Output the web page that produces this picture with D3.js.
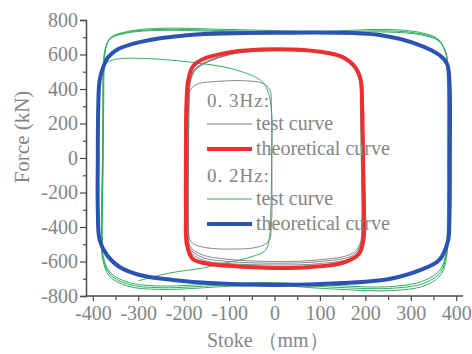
<!DOCTYPE html>
<html>
<head>
<meta charset="utf-8">
<script src="https://cdn.jsdelivr.net/npm/d3@7"></script>
<style>
  body { margin: 0; background: #fff; }
  svg { display: block; }
  text { font-family: "Liberation Serif", "Times New Roman", serif; fill: #858585; }
</style>
</head>
<body>
<svg width="472" height="354"></svg>
<script>
// tick labels
var xTicks = [-400, -300, -200, -100, 0, 100, 200, 300, 400];
var yTicks = [-800, -600, -400, -200, 0, 200, 400, 600, 800];

// 0.3Hz theoretical curve (stoke mm, force kN)
var red03 = [[-195, 0], [-194, 300], [-190, 450], [-180, 530], [-160, 570], [-100, 612], [0, 630], [100, 616], [150, 585], [178, 525], [190, 450], [193, 300], [195, 0], [197, -300], [196, -470], [186, -555], [150, -608], [80, -632], [0, -638], [-100, -625], [-150, -612], [-180, -585], [-193, -500], [-195, -300]];

// 0.3Hz test curves
var gray1 = [[-189, 0], [-188, 300], [-185, 440], [-172, 515], [-100, 598], [0, 622], [100, 610], [150, 582], [175, 530], [187, 450], [189, 300], [191, 0], [192, -400], [188, -500], [170, -555], [100, -590], [0, -600], [-100, -588], [-160, -560], [-185, -515], [-189, -400]];
var gray2 = [[-190, 0], [-189, 300], [-186, 445], [-173, 520], [-100, 602], [0, 625], [100, 612], [150, 585], [176, 535], [188, 455], [190, 300], [192, 0], [193, -400], [189, -505], [172, -565], [100, -600], [0, -610], [-100, -600], [-160, -575], [-186, -525], [-190, -400]];
var gray3 = [[-191, 0], [-190, 300], [-187, 440], [-174, 518], [-100, 600], [0, 624], [100, 614], [150, 588], [177, 538], [189, 460], [191, 300], [193, 0], [194, -400], [190, -512], [174, -575], [100, -612], [0, -620], [-100, -612], [-160, -590], [-187, -535], [-191, -400]];
var grayFirst = [[-190, 0], [-189, 300], [-185, 395], [-170, 428], [-120, 445], [-60, 447], [-25, 432], [-10, 395], [-7, 300], [-6, 0], [-7, -400], [-12, -480], [-35, -515], [-90, -528], [-150, -520], [-180, -495], [-190, -440]];

// 0.2Hz theoretical curve
var blue02 = [[-389, 0], [-388, 300], [-385, 450], [-378, 520], [-366, 585], [-345, 630], [-297, 672], [-187, 713], [0, 726], [231, 713], [319, 655], [363, 597], [380, 545], [385, 450], [386, 0], [385, -360], [382, -480], [363, -591], [319, -652], [253, -701], [150, -725], [0, -736], [-143, -725], [-224, -707], [-297, -678], [-341, -632], [-369, -562], [-385, -475], [-389, -300]];

// 0.2Hz test curves
var green1 = [[-377, 0], [-376, 300], [-375, 520], [-371, 640], [-360, 700], [-320, 735], [-250, 752], [-100, 745], [100, 735], [250, 745], [320, 728], [360, 690], [376, 615], [380, 500], [381, 0], [380, -450], [377, -560], [364, -650], [330, -710], [260, -745], [100, -735], [0, -722], [-100, -726], [-250, -742], [-320, -722], [-360, -668], [-376, -580], [-379, -450]];
var green2 = [[-378, 0], [-377, 300], [-376, 520], [-372, 635], [-361, 695], [-322, 730], [-250, 745], [-100, 738], [100, 728], [250, 737], [322, 720], [361, 683], [377, 610], [381, 500], [382, 0], [381, -450], [378, -565], [366, -660], [333, -722], [262, -755], [100, -745], [0, -730], [-100, -735], [-250, -752], [-322, -732], [-362, -675], [-377, -585], [-380, -450]];
var green3 = [[-379, 0], [-378, 300], [-377, 520], [-373, 630], [-362, 690], [-324, 725], [-250, 740], [-100, 732], [100, 722], [250, 730], [324, 713], [362, 677], [378, 605], [382, 500], [383, 0], [382, -450], [379, -570], [368, -670], [336, -735], [264, -768], [100, -755], [0, -738], [-100, -744], [-250, -762], [-324, -742], [-364, -684], [-378, -590], [-381, -450]];
var greenFirst = [[-300, -712], [-231, -667], [-158, -638], [-99, -603], [-50, -572], [-20, -535], [-11, -460], [-8, -300], [-6, 0], [-6, 250], [-11, 354], [-26, 440], [-84, 510], [-187, 556], [-300, 578], [-350, 572], [-372, 548], [-376, 520]];

var svg = d3.select("svg");
var x = d3.scaleLinear().domain([-415, 415]).range([86, 463]);
var y = d3.scaleLinear().domain([-800, 800]).range([296, 20]);

var loop = d3.line().x(function(d) { return x(d[0]); }).y(function(d) { return y(d[1]); })
  .curve(d3.curveCatmullRomClosed.alpha(0.5));
var open = d3.line().x(function(d) { return x(d[0]); }).y(function(d) { return y(d[1]); })
  .curve(d3.curveCatmullRom.alpha(0.5));

var green = "#33ad62", blue = "#2b53b2", red = "#ec2f2f", gray = "#7a7a7a";

// green test loops, then blue theory on top
[green1, green2, green3].forEach(function(g) {
  svg.append("path").attr("d", loop(g)).attr("fill", "none").attr("stroke", green).attr("stroke-width", 1);
});
svg.append("path").attr("d", open(greenFirst)).attr("fill", "none").attr("stroke", green).attr("stroke-width", 1);
svg.append("path").attr("d", loop(blue02)).attr("fill", "none").attr("stroke", blue).attr("stroke-width", 4);

// gray test loops, then red theory
[gray1, gray2, gray3, grayFirst].forEach(function(g) {
  svg.append("path").attr("d", loop(g)).attr("fill", "none").attr("stroke", gray).attr("stroke-width", 0.9);
});
svg.append("path").attr("d", loop(red03)).attr("fill", "none").attr("stroke", red).attr("stroke-width", 4);

// axes (plain hyphen minus like the original)
var fmt = function(d) { return String(d); };
var xAxis = svg.append("g").attr("transform", "translate(0,296)")
  .call(d3.axisBottom(x).tickValues(xTicks).tickSize(5).tickPadding(4).tickFormat(fmt));
var xMinor = svg.append("g").attr("transform", "translate(0,296)")
  .call(d3.axisBottom(x).tickValues(d3.range(-350, 400, 100)).tickSize(4).tickFormat(""));
var yAxis = svg.append("g").attr("transform", "translate(86,0)")
  .call(d3.axisLeft(y).tickValues(yTicks).tickSize(6).tickPadding(2).tickFormat(fmt));
var yMinor = svg.append("g").attr("transform", "translate(86,0)")
  .call(d3.axisLeft(y).tickValues(d3.range(-700, 800, 200)).tickSize(3).tickFormat(""));

[xAxis, xMinor, yAxis, yMinor].forEach(function(a) {
  a.select(".domain").attr("stroke", "#4a4a4a").attr("stroke-width", 1.5);
  a.selectAll(".tick line").attr("stroke", "#4a4a4a").attr("stroke-width", 1.2);
  a.selectAll("text").attr("font-family", "Liberation Serif, serif").attr("font-size", 20).attr("fill", "#858585");
});
xAxis.select(".domain").attr("d", "M86,0H463");
xMinor.select(".domain").remove();
yMinor.select(".domain").remove();
xAxis.selectAll("text").attr("dy", "0.75em");

// axis titles
svg.append("text").attr("x", 207).attr("y", 347).attr("font-size", 20).text("Stoke （mm）");
svg.append("text").attr("transform", "translate(29,137) rotate(-90)").attr("text-anchor", "middle")
  .attr("font-size", 21).text("Force (kN)");

// legend
var legend = [
  { label: "0. 3Hz:", y: 101 },
  { label: "test curve", y: 124, color: gray, w: 1 },
  { label: "theoretical curve", y: 149, color: red, w: 4 },
  { label: "0. 2Hz:", y: 176 },
  { label: "test curve", y: 199, color: green, w: 1 },
  { label: "theoretical curve", y: 224, color: blue, w: 4 }
];
legend.forEach(function(d) {
  if (d.color) {
    svg.append("line").attr("x1", 207).attr("x2", 252).attr("y1", d.y).attr("y2", d.y)
      .attr("stroke", d.color).attr("stroke-width", d.w);
    svg.append("text").attr("x", 256).attr("y", d.y).attr("dy", "0.32em").attr("font-size", 20).text(d.label);
  } else {
    svg.append("text").attr("x", 207).attr("y", d.y).attr("dy", "0.32em").attr("font-size", 19)
      .attr("letter-spacing", 1).text(d.label);
  }
});
</script>
</body>
</html>
